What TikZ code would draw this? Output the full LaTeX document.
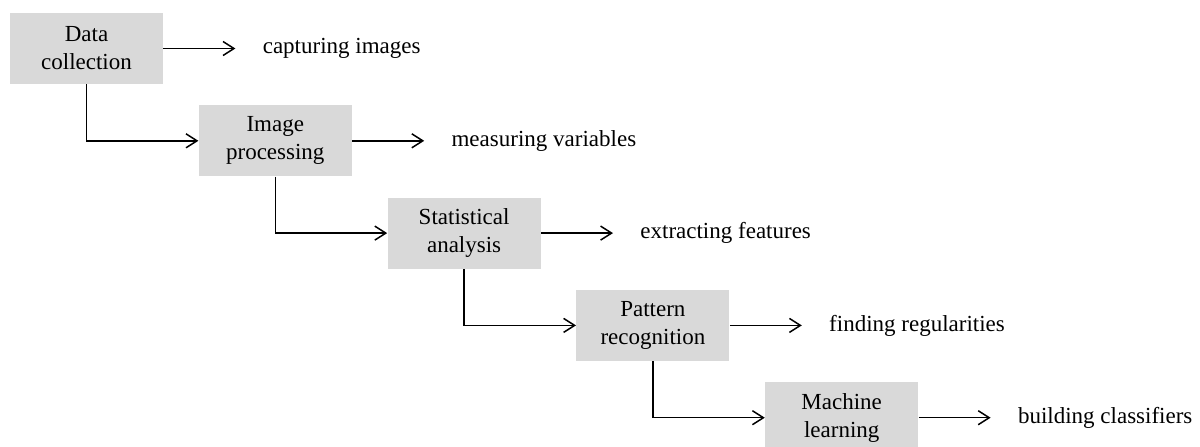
\documentclass[tikz,border=0pt]{standalone}
\usepackage{fontspec}
\setmainfont{Liberation Serif}
\usetikzlibrary{positioning,arrows.meta}
\definecolor{boxgray}{HTML}{D9D9D9}

\begin{document}
\begin{tikzpicture}[auto, node distance=10.25pt and 17.5pt,
		main node/.style={fill=boxgray,minimum width=76.5pt,minimum height=35.5pt,inner sep=0pt,align=center,font=\fontsize{11.5}{14}\selectfont},
		note node/.style={inner sep=0pt,font=\fontsize{11.5}{14}\selectfont},
		link/.style={line width=0.75pt,-{Straight Barb[length=5.5pt,width=7pt]}}]
		\useasboundingbox (0,0) rectangle (600pt,-223pt);
		
		\node[main node] (1) at (43.25pt,-24.25pt) {Data\\collection};
		\node[main node] (2) [below right=of 1] {Image\\processing};
		\node[main node] (3) [below right=of 2] {Statistical\\analysis};
		\node[main node] (4) [below right=of 3] {Pattern\\recognition};
		\node[main node] (5) [below right=of 4] {Machine\\learning};
		
		\node[note node] (a) [right=49.5pt of 1] {capturing images};
		\node[note node] (b) [right=49.5pt of 2] {measuring variables};
		\node[note node] (c) [right=49.5pt of 3] {extracting features};
		\node[note node] (d) [right=49.5pt of 4] {finding regularities};
		\node[note node] (e) [right=49.5pt of 5] {building classifiers};
		
		\path[link,shorten >=13.5pt]
		(1) edge (a)
		(2) edge (b)
		(3) edge (c)
		(4) edge (d)
		(5) edge (e);
		
		\draw[link] (1) |- (2);
		\draw[link] (2) |- (3);
		\draw[link] (3) |- (4);
		\draw[link] (4) |- (5);
		\end{tikzpicture}
\end{document}
